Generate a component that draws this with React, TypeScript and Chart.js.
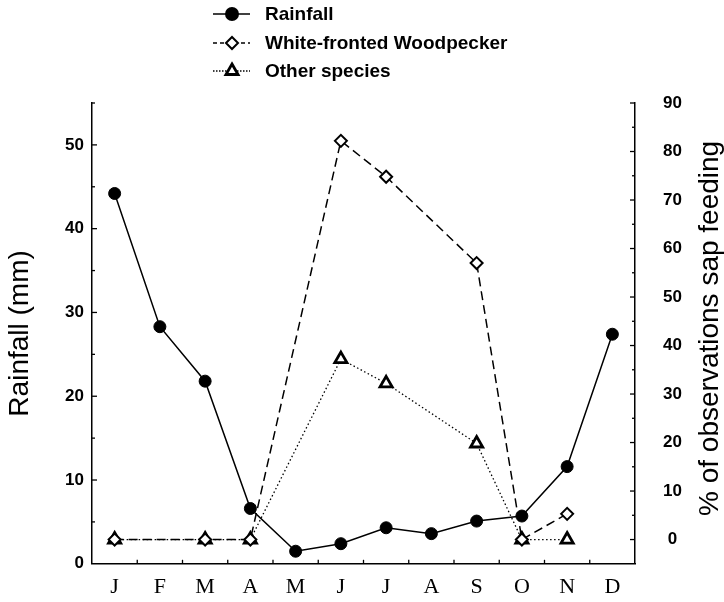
import React, { useEffect, useRef } from "react";
import { Chart, registerables } from "chart.js";

Chart.register(...registerables);

const months = ["J", "F", "M", "A", "M", "J", "J", "A", "S", "O", "N", "D"];
const rainfall = [44.2, 28.3, 21.8, 6.6, 1.5, 2.4, 4.3, 3.6, 5.1, 5.7, 11.6, 27.4];
const woodpecker = [0, null, 0, 0, null, 82.2, 74.8, null, 57, 0, 5.3, null];
const otherSpecies = [0, null, 0, 0, null, 37.2, 32.2, null, 19.8, 0, 0, null];
const seriesNames = ["Rainfall", "White-fronted Woodpecker", "Other species"];
const leftTitle = "Rainfall (mm)";
const rightTitle = "% of observations sap feeding";

const SANS = "'Liberation Sans', Arial, sans-serif";
const SERIF = "'Liberation Serif', 'Times New Roman', serif";

function drawMarker(ctx: CanvasRenderingContext2D, kind: string, x: number, y: number, r: number) {
  ctx.beginPath();
  if (kind === "circle") {
    ctx.arc(x, y, r, 0, Math.PI * 2);
    ctx.fillStyle = "#000";
    ctx.fill();
    return;
  }
  if (kind === "diamond") {
    ctx.moveTo(x - r, y);
    ctx.lineTo(x, y - r);
    ctx.lineTo(x + r, y);
    ctx.lineTo(x, y + r);
    ctx.closePath();
    ctx.fillStyle = "#fff";
    ctx.fill();
    ctx.lineWidth = 2;
    ctx.stroke();
    return;
  }
  const h = r * 0.866;
  ctx.moveTo(x, y - r);
  ctx.lineTo(x + h, y + r / 2);
  ctx.lineTo(x - h, y + r / 2);
  ctx.closePath();
  ctx.fillStyle = "#fff";
  ctx.fill();
  ctx.lineWidth = 2.8;
  ctx.stroke();
}

const decorPlugin = {
  id: "decor",
  afterDraw(chart: any) {
    const ctx: CanvasRenderingContext2D = chart.ctx;
    const { left, right, top, bottom } = chart.chartArea;
    const ys = chart.scales.y;
    const yr = chart.scales.y1;
    const xs = chart.scales.x;
    ctx.save();
    ctx.strokeStyle = "#000";
    ctx.lineWidth = 1.3;
    for (let v = 5; v <= 55; v += 5) {
      const py = ys.getPixelForValue(v);
      const len = v % 10 === 0 ? 5 : 3;
      ctx.beginPath();
      ctx.moveTo(left, py);
      ctx.lineTo(left + len, py);
      ctx.stroke();
    }
    for (let v = 0; v <= 90; v += 5) {
      const py = yr.getPixelForValue(v);
      const len = v % 10 === 0 ? 5 : 3;
      ctx.beginPath();
      ctx.moveTo(right, py);
      ctx.lineTo(right - len, py);
      ctx.stroke();
    }
    for (let i = 1; i < months.length; i++) {
      const px = (xs.getPixelForValue(i - 1) + xs.getPixelForValue(i)) / 2;
      ctx.beginPath();
      ctx.moveTo(px, bottom);
      ctx.lineTo(px, bottom - 4);
      ctx.stroke();
    }

    // right axis title, reading bottom-to-top
    ctx.save();
    ctx.translate(710, (top + bottom) / 2 - 5);
    ctx.rotate(-Math.PI / 2);
    ctx.fillStyle = "#000";
    ctx.font = "28px " + SANS;
    ctx.textAlign = "center";
    ctx.textBaseline = "middle";
    ctx.fillText(rightTitle, 0, 0);
    ctx.restore();

    // legend
    const rows = [14, 43, 71];
    const kinds = ["circle", "diamond", "triangle"];
    const dashes = [[], [4, 3], [1.5, 1.5]];
    const x0 = 213, x1 = 250, xm = 232;
    for (let i = 0; i < 3; i++) {
      const y = rows[i];
      ctx.strokeStyle = "#000";
      ctx.lineWidth = 1.3;
      ctx.setLineDash(dashes[i]);
      ctx.beginPath();
      ctx.moveTo(x0, y);
      ctx.lineTo(x1, y);
      ctx.stroke();
      ctx.setLineDash([]);
      drawMarker(ctx, kinds[i], xm, y, i === 1 ? 6 : 7);
      ctx.fillStyle = "#000";
      ctx.font = "bold 19px " + SANS;
      ctx.textAlign = "left";
      ctx.textBaseline = "middle";
      ctx.fillText(seriesNames[i], 265, y + 1);
    }
    ctx.restore();
  },
};

export default function App() {
  const ref = useRef<HTMLCanvasElement | null>(null);

  useEffect(() => {
    if (!ref.current) return;
    const chart = new Chart(ref.current, {
      type: "line",
      data: {
        labels: months,
        datasets: [
          {
            label: seriesNames[0],
            data: rainfall,
            yAxisID: "y",
            borderColor: "#000",
            borderWidth: 1.5,
            pointStyle: "circle",
            pointRadius: 6,
            pointBackgroundColor: "#000",
            pointBorderColor: "#000",
            pointBorderWidth: 1,
            tension: 0,
          },
          {
            label: seriesNames[1],
            data: woodpecker,
            yAxisID: "y1",
            borderColor: "#000",
            borderWidth: 1.5,
            borderDash: [9, 5],
            pointStyle: "rectRot",
            pointRadius: 6,
            pointBackgroundColor: "#fff",
            pointBorderColor: "#000",
            pointBorderWidth: 2,
            spanGaps: true,
            tension: 0,
          },
          {
            label: seriesNames[2],
            data: otherSpecies,
            yAxisID: "y1",
            borderColor: "#000",
            borderWidth: 1.3,
            borderDash: [1.5, 2.5],
            pointStyle: "triangle",
            pointRadius: 7,
            pointBackgroundColor: "#fff",
            pointBorderColor: "#000",
            pointBorderWidth: 2.8,
            spanGaps: true,
            tension: 0,
          },
        ],
      },
      options: {
        responsive: false,
        devicePixelRatio: 1,
        animation: false,
        layout: { padding: { top: 103, left: 0, right: 0, bottom: 0 } },
        plugins: {
          legend: { display: false },
          title: { display: false },
          tooltip: { enabled: false },
        },
        scales: {
          x: {
            type: "category",
            offset: true,
            grid: { display: false, drawTicks: false },
            border: { display: true, color: "#000", width: 1.5 },
            ticks: {
              color: "#000",
              font: { family: SERIF, size: 22 },
              padding: 10,
              maxRotation: 0,
              autoSkip: false,
            },
            afterFit: (s: any) => {
              s.height = 33;
            },
          },
          y: {
            type: "linear",
            position: "left",
            min: 0,
            max: 55,
            grid: { display: false, drawTicks: false },
            border: { display: true, color: "#000", width: 1.5 },
            ticks: {
              stepSize: 10,
              includeBounds: false,
              color: "#000",
              font: { family: SANS, size: 17, weight: "bold" },
              padding: 8,
            },
            title: {
              display: true,
              text: leftTitle,
              color: "#000",
              font: { family: SANS, size: 28, lineHeight: 1 },
              padding: { top: 6, bottom: 0 },
            },
            afterFit: (s: any) => {
              s.width = 92;
            },
          },
          y1: {
            type: "linear",
            position: "right",
            min: -5,
            max: 90,
            grid: { display: false, drawTicks: false },
            border: { display: true, color: "#000", width: 1.5 },
            ticks: {
              stepSize: 10,
              includeBounds: false,
              color: "#000",
              font: { family: SANS, size: 17, weight: "bold" },
              padding: 28,
              crossAlign: "center",
            },
            title: { display: false },
            afterFit: (s: any) => {
              s.width = 89;
            },
          },
        },
      },
      plugins: [decorPlugin],
    });
    return () => chart.destroy();
  }, []);

  return (
    <div style={{ position: "absolute", left: 0, top: 0, width: 724, height: 602, background: "#fff" }}>
      <canvas ref={ref} width={724} height={602} style={{ display: "block", width: 724, height: 602 }} />
    </div>
  );
}
